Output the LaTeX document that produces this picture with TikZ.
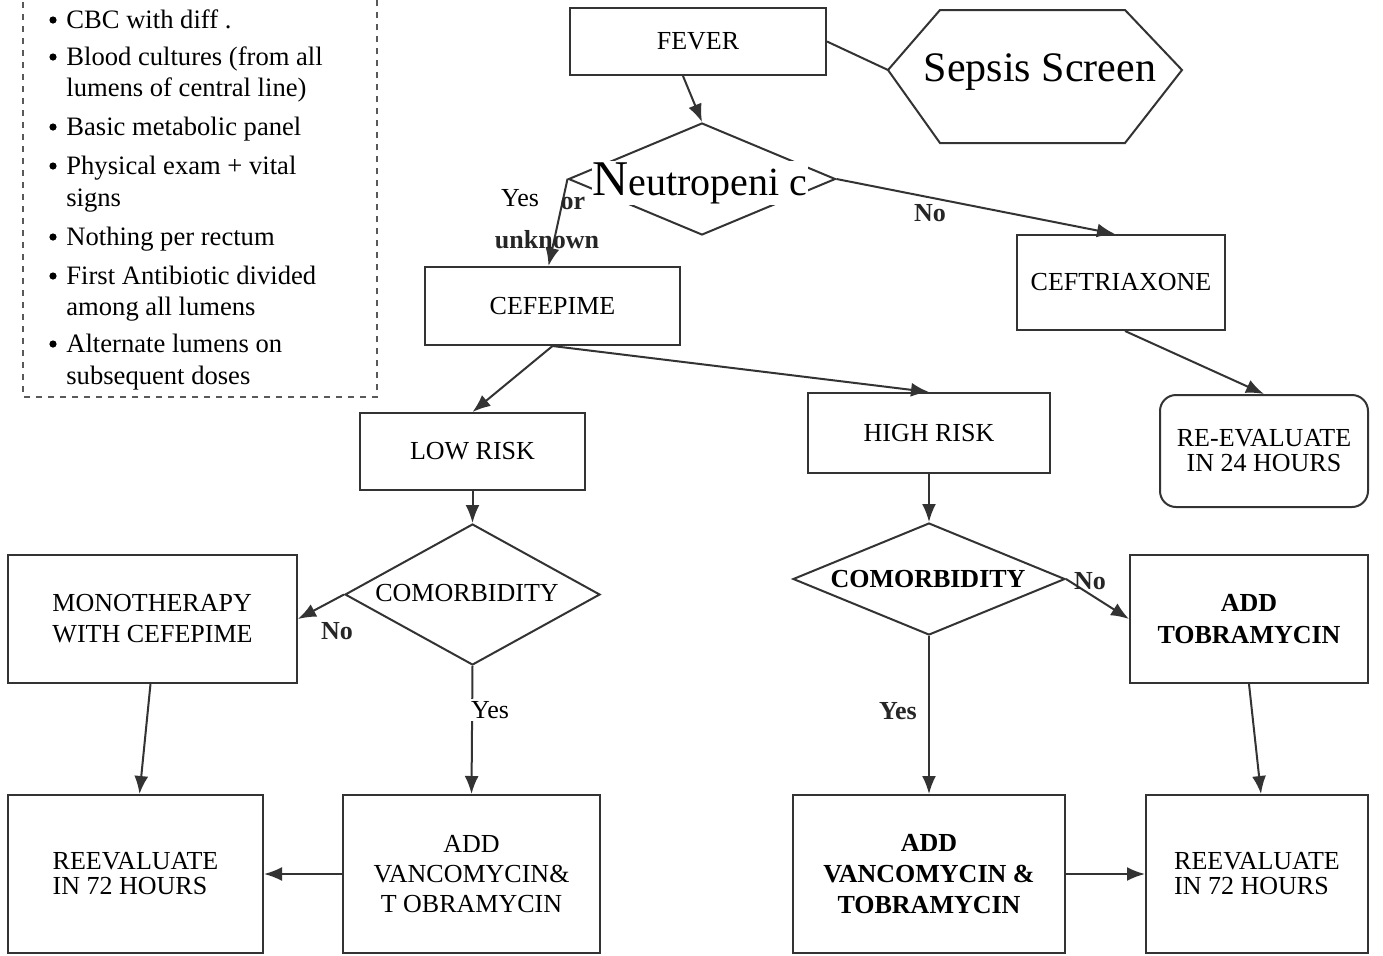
\documentclass[tikz,border=0pt]{standalone}
\usepackage{fontspec}
\setmainfont{Liberation Serif}
\usetikzlibrary{shapes.geometric,arrows.meta,calc}
\begin{document}
\begin{tikzpicture}[x=0.5pt,y=-0.5pt,
  ln/.style={draw=black!80, line width=1pt},
  box/.style={ln, rectangle, inner sep=0pt, font=\fontsize{13}{13}\selectfont, align=center},
  rbox/.style={box, rounded corners=8pt},
  dia/.style={ln, diamond, inner sep=0pt},
  arr/.style={ln, -{Latex[length=9pt,width=7pt]}},
  lab/.style={font=\bfseries\fontsize{13}{13}\selectfont, text=black!85, inner sep=1pt},
  plab/.style={font=\fontsize{13}{13}\selectfont, fill=white, inner sep=1pt},
  btxt/.style={anchor=base west, inner sep=0pt, font=\fontsize{13.3}{13.3}\selectfont},
  bul/.style={circle, fill=black, inner sep=0pt, minimum size=3.6pt}
]
\useasboundingbox (0,0) rectangle (1383,955);

% dashed list box
\draw[draw=black!65, dashed, line width=0.8pt] (23,-10) rectangle (377,397);
\foreach \yy/\tt [count=\i] in {28/CBC with diff ., 65/Blood cultures (from all, 96/lumens of central line),
  135/Basic metabolic panel, 174/Physical exam + vital, 206/signs, 245/Nothing per rectum,
  284/First Antibiotic divided, 315/among all lumens, 352/Alternate lumens on, 384/subsequent doses}
  \node[btxt] (t\i) at (66,\yy) {\tt};
\foreach \yy [count=\i] in {20,57,127,166,237,276,344}
  \node[bul] (b\i) at (53,\yy) {};

% boxes
\node[box, minimum width=128pt, minimum height=33.5pt] (fever) at (698,41.5) {FEVER};
\node[box, minimum width=127.5pt, minimum height=39pt] (cefepime) at (552.5,306) {CEFEPIME};
\node[box, minimum width=104pt, minimum height=47.5pt] (ceftri) at (1121,282.5) {CEFTRIAXONE};
\node[rbox, minimum width=104pt, minimum height=56pt, font=\fontsize{13}{12.5}\selectfont] (re24) at (1264,451) {RE-EVALUATE\\IN 24 HOURS};
\node[box, minimum width=112.5pt, minimum height=38.5pt] (low) at (472.5,451.5) {LOW RISK};
\node[box, minimum width=121pt, minimum height=40pt] (high) at (929,433) {HIGH RISK};
\node[box, minimum width=144.5pt, minimum height=64pt, align=left, font=\fontsize{13}{15.5}\selectfont] (mono) at (152.5,619) {MONOTHERAPY\\WITH CEFEPIME};
\node[box, minimum width=119pt, minimum height=64pt, font=\bfseries\fontsize{13}{16}\selectfont] (addtob) at (1249,619) {ADD\\TOBRAMYCIN};
\node[box, minimum width=127.5pt, minimum height=79pt, align=left, font=\fontsize{13}{12.5}\selectfont] (reevL) at (135.5,874) {REEVALUATE\\IN 72 HOURS};
\node[box, minimum width=128.5pt, minimum height=79pt, font=\fontsize{13}{15}\selectfont] (addvL) at (471.5,874) {ADD\\VANCOMYCIN\&\\T OBRAMYCIN};
\node[box, minimum width=136pt, minimum height=79pt, font=\bfseries\fontsize{13}{15.5}\selectfont] (addvR) at (929,874) {ADD\\VANCOMYCIN \&\\TOBRAMYCIN};
\node[box, minimum width=111pt, minimum height=79pt, align=left, font=\fontsize{13}{12.5}\selectfont] (reevR) at (1257,874) {REEVALUATE\\IN 72 HOURS};

% sepsis screen hexagon
\coordinate (hexL) at (888,70);
\draw[ln] (hexL) -- (940,10) -- (1125,10) -- (1182,70) -- (1125,143) -- (940,143) -- cycle;
\node[fill=white, inner sep=1pt, font=\fontsize{21}{21}\selectfont] (sepsis) at (1040,72) {Sepsis Screen};

% diamonds
\node[dia, minimum width=133.5pt, minimum height=56pt] (neut) at (702,179) {};
\node[dia, minimum width=127.5pt, minimum height=70.5pt] (comL) at (472.5,594.5) {};
\node[dia, minimum width=136pt, minimum height=56pt] (comR) at (929,579) {};
\node[fill=white, inner sep=0.5pt, font=\fontsize{20}{20}\selectfont] (neuttxt) at (700,183) {{\fontsize{25}{25}\selectfont N}eutropeni c};
\node[fill=white, inner sep=0.5pt, font=\fontsize{13}{13}\selectfont] (comLtxt) at (467,593) {COMORBIDITY};
\node[inner sep=0.5pt, font=\bfseries\fontsize{13}{13}\selectfont] (comRtxt) at (928,579) {COMORBIDITY};

% connectors
\draw[ln] (fever.east) -- (hexL);
\draw[arr] ([xshift=-7.5pt]fever.south) -- (neut.north);
\draw[arr] (neut.west) -- ([xshift=-2pt]cefepime.north);
\draw[arr] (neut.east) -- ([xshift=-3pt]ceftri.north);
\draw[arr] ([xshift=2pt]ceftri.south) -- (re24.north);
\draw[arr] (cefepime.south) -- (low.north);
\draw[arr] (cefepime.south) -- (high.north);
\draw[arr] (low.south) -- (comL.north);
\draw[arr] (comL.west) -- (mono.east);
\draw[arr] (comL.south) -- (addvL.north);
\draw[arr] ([xshift=-1pt]mono.south) -- ([xshift=2pt]reevL.north);
\draw[arr] (addvL.west) -- (reevL.east);
\draw[arr] (high.south) -- (comR.north);
\draw[arr] (comR.east) -- (addtob.west);
\draw[arr] (comR.south) -- (addvR.north);
\draw[arr] (addvR.east) -- (reevR.west);
\draw[arr] (addtob.south) -- ([xshift=2pt]reevR.north);

% labels
\node[plab] (yes1) at (520,198) {Yes};
\node[lab] (or1) at (573,203) {or};
\node[lab] (unk) at (547,240) {unknown};
\node[lab] (no1) at (930,213) {No};
\node[lab] (no2) at (337,631) {No};
\node[plab] (yes2) at (490,710) {Yes};
\node[lab] (yes3) at (898,711) {Yes};
\node[lab] (no3) at (1090,581) {No};
\end{tikzpicture}
\end{document}
